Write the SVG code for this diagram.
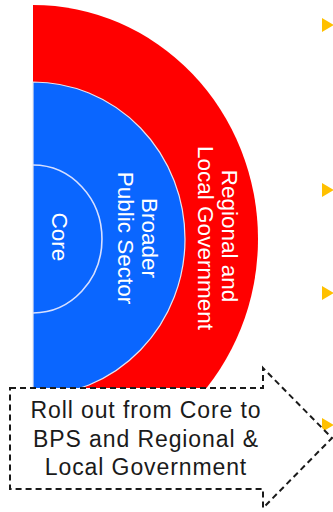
<svg xmlns="http://www.w3.org/2000/svg" width="333" height="512" viewBox="0 0 333 512">
  <style>
    .ring-label { font-family: "Liberation Sans", Arial, sans-serif; font-size: 22.5px; fill: #ffffff; text-anchor: middle; }
    .callout-text { font-family: "Liberation Sans", Arial, sans-serif; font-size: 23px; letter-spacing: 0.9px; fill: #1a1a1a; text-anchor: middle; }
    .bullet { fill: #ffc000; }
  </style>
  <rect width="333" height="512" fill="#ffffff"/>
  <g id="bullets">
    <polygon class="bullet" points="322,18 334,25 322,32"/>
    <polygon class="bullet" points="322,183 334,190 322,197"/>
    <polygon class="bullet" points="322,286 334,293 322,300"/>
    <polygon class="bullet" points="322,418 334,425 322,432"/>
  </g>
  <g id="ring-regional">
    <path d="M33,5 A225,234 0 0 1 33,473 Z" fill="#ff0000"/>
  </g>
  <g id="ring-bps">
    <path d="M33,82 A152,157 0 0 1 33,396 Z" fill="#0a66ff" stroke="#e6e6f0" stroke-width="1.2"/>
  </g>
  <g id="ring-core">
    <path d="M33,165 A69,74 0 0 1 33,313" fill="none" stroke="#d8e0ff" stroke-width="1.6"/>
    <text class="ring-label" transform="translate(52,237) rotate(90)">Core</text>
  </g>
  <g id="labels-bps">
    <text class="ring-label" transform="translate(142,238) rotate(90)">Broader</text>
    <text class="ring-label" transform="translate(118,238) rotate(90)">Public Sector</text>
  </g>
  <g id="labels-regional">
    <text class="ring-label" transform="translate(222,236) rotate(90)">Regional and</text>
    <text class="ring-label" transform="translate(198,238) rotate(90)">Local Government</text>
  </g>
  <g id="callout">
    <path d="M10,388 H263 V368 L332,438 L263,508 V489 H10 Z" fill="#ffffff" stroke="#1a1a1a" stroke-width="2" stroke-dasharray="6,4"/>
    <text class="callout-text" x="146" y="418">Roll out from Core to</text>
    <text class="callout-text" x="146" y="447">BPS and Regional &amp;</text>
    <text class="callout-text" x="146" y="475">Local Government</text>
  </g>
</svg>
